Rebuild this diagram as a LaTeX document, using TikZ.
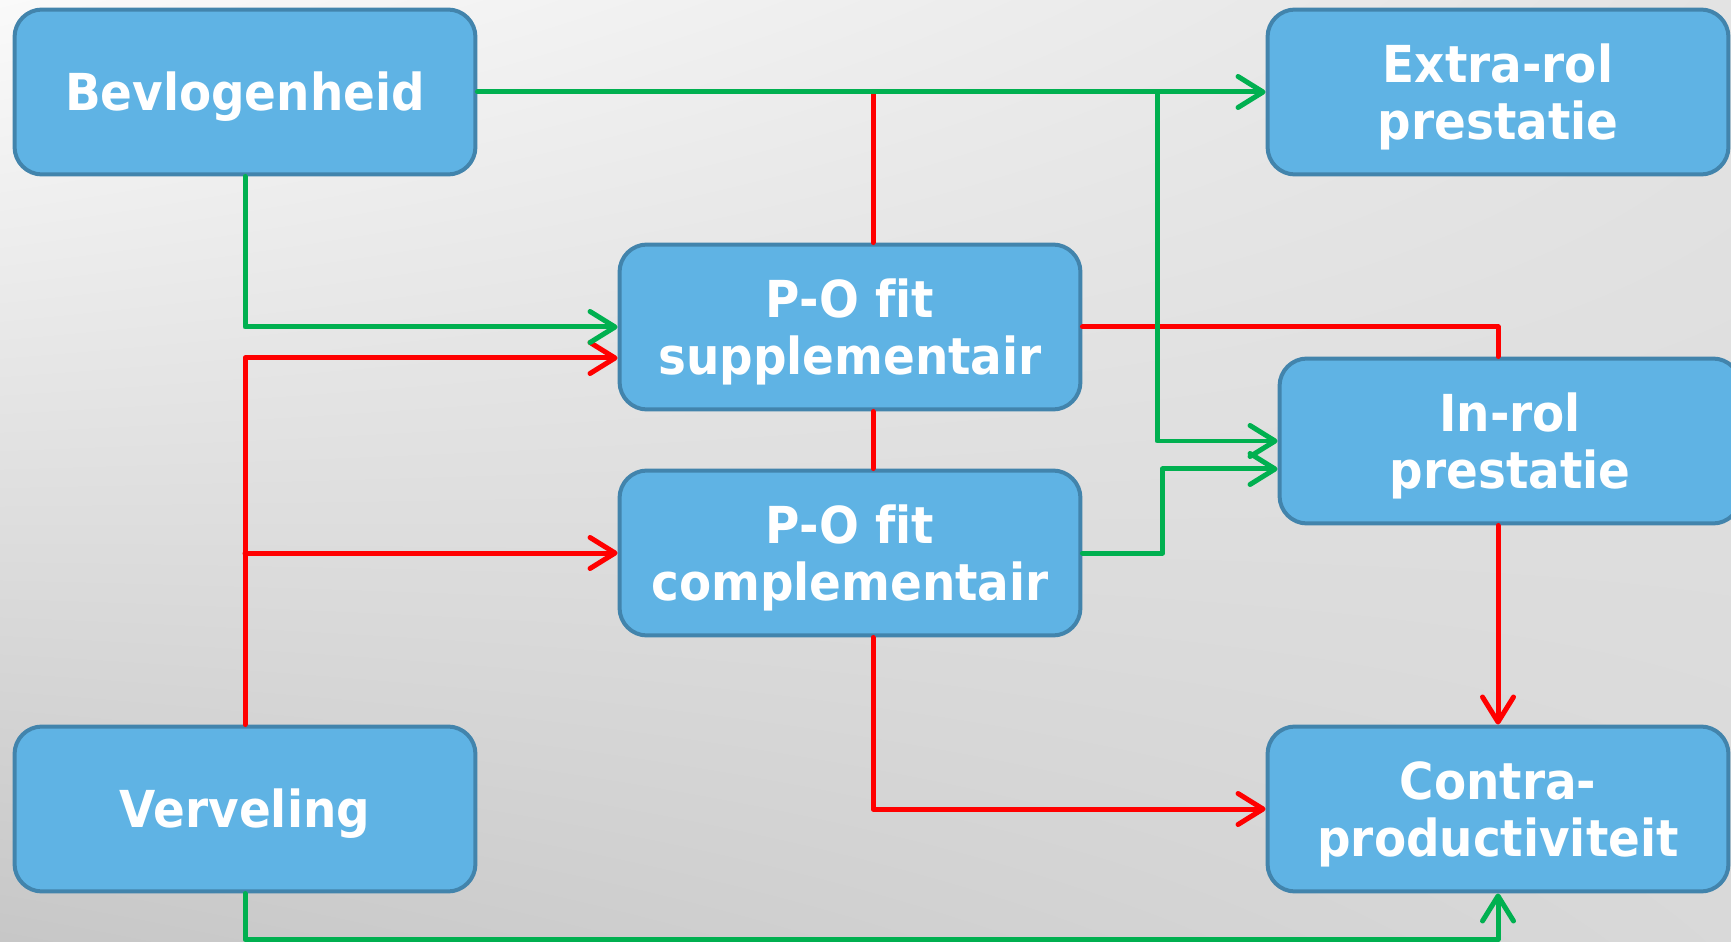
\documentclass[tikz,border=0pt]{standalone}
\usepackage{fontspec}
\setmainfont{DejaVu Sans}[FakeStretch=0.92,Ligatures=NoCommon]
\usetikzlibrary{arrows.meta,positioning,shadings}
\definecolor{boxblue}{RGB}{95,179,228}
\definecolor{boxedge}{RGB}{66,132,172}
\definecolor{posgreen}{RGB}{0,176,80}
\definecolor{negred}{RGB}{255,0,0}
\newcommand{\capstrut}{\rule{0pt}{.97cm}}
\tikzstyle{block}=[rectangle,rounded corners=.55cm,fill=boxblue,draw=boxedge,
                   line width=.08cm,minimum width=9.22cm,minimum height=3.3cm,
                   inner sep=0pt,align=center,text=white,
                   font=\bfseries\fontsize{29}{32.4}\selectfont]
\tikzstyle{posline}=[line width=.1cm,draw=posgreen,line cap=round,line join=round]
\tikzstyle{negline}=[line width=.1cm,draw=negred,line cap=round,line join=round]
\tikzstyle{posarrow}=[posline,-{Straight Barb[length=.5cm,width=.62cm,round]}]
\tikzstyle{negarrow}=[negline,-{Straight Barb[length=.5cm,width=.62cm,round]}]

\begin{document}
\begin{tikzpicture}[x=.02cm,y=-.02cm]

  % background
  \useasboundingbox (0,0) rectangle (1731,942);
  \shade[upper left=gray!4,upper right=gray!22,lower left=gray!44,lower right=gray!30]
    (0,0) rectangle (1731,942);

  % boxes
  \node[block] (bev)    at (245,92)   {\capstrut Bevlogenheid};
  \node[block] (extra)  at (1498,92)  {\capstrut Extra-rol\\prestatie};
  \node[block] (supp)   at (850,327)  {\capstrut P-O fit\\supplementair};
  \node[block] (comp)   at (850,553)  {\capstrut P-O fit\\complementair};
  \node[block] (inrol)  at (1510,441) {\capstrut In-rol\\prestatie};
  \node[block] (contra) at (1498,809) {\capstrut Contra-\\productiviteit};
  \node[block] (verv)   at (245,809)  {\capstrut Verveling};

  \coordinate (rtop)   at (873,92);
  \coordinate (gsplit) at (1157,92);
  \coordinate (rsplit) at (verv.north |- comp.west);

  % negative paths
  \draw[negline] (rtop) -- (rtop |- supp.north);
  \draw[negline] (rtop |- supp.south) -- (rtop |- comp.north);
  \draw[negarrow] (rtop |- comp.south) |- (contra.west);
  \draw[negarrow] (verv.north) |- ([yshift=-.62cm]supp.west);
  \draw[negarrow] (rsplit) -- (comp.west);
  \draw[negline] (supp.east) -| (contra.north |- inrol.north);
  \draw[negarrow] (contra.north |- inrol.south) -- (contra.north);

  % positive paths
  \draw[posarrow] (bev.east) -- (extra.west);
  \draw[posarrow] (gsplit) |- (inrol.west);
  \draw[posarrow] (comp.east) -- ++(80,0) |- ([yshift=-.56cm]inrol.west);
  \draw[posarrow] (bev.south) |- (supp.west);
  \draw[posarrow] (verv.south) -- ++(0,46) -| (contra.south);

\end{tikzpicture}
\end{document}
